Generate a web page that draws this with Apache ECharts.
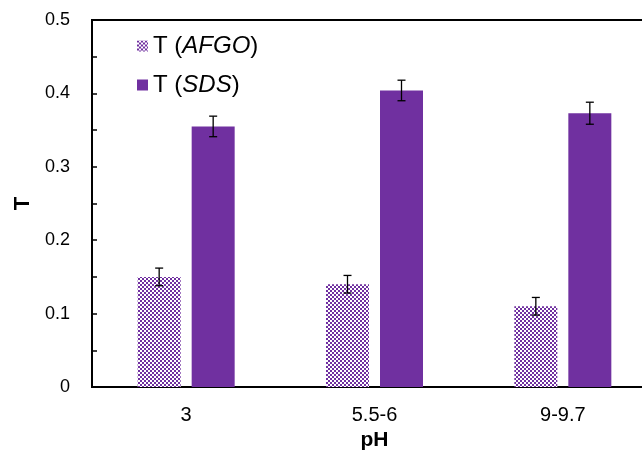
<!DOCTYPE html>
<html>
<head>
<meta charset="utf-8">
<script src="https://cdn.jsdelivr.net/npm/echarts@6/dist/echarts.min.js"></script>
<style>html,body{margin:0;padding:0;background:#fff}#c{width:642px;height:450px}</style>
</head>
<body>
<div id="c"></div>
<script>
var categories = ['3', '5.5-6', '9-9.7'];
var afgoValues = [0.15, 0.14, 0.11];
var sdsValues = [0.355, 0.404, 0.373];
var afgoErrors = [0.012, 0.012, 0.012];
var sdsErrors = [0.014, 0.014, 0.015];
var yTicks = [0, 0.1, 0.2, 0.3, 0.4, 0.5];

var PURPLE = '#7030A0';
var FONT = '"Liberation Sans", Arial, sans-serif';
var BAR_W = 43, BAR_GAP = 11;

function makePattern() {
  var cv = document.createElement('canvas');
  cv.width = 4; cv.height = 4;
  var ctx = cv.getContext('2d');
  ctx.fillStyle = '#ffffff';
  ctx.fillRect(0, 0, 4, 4);
  ctx.fillStyle = PURPLE;
  ctx.fillRect(0, 0, 2, 2);
  ctx.fillRect(2, 2, 2, 2);
  return cv;
}
var pattern = { image: makePattern(), repeat: 'repeat' };

function errSeries(values, errors, sign) {
  return {
    type: 'custom',
    z: 10,
    silent: true,
    data: values.map(function (v, i) { return [i, v, errors[i]]; }),
    renderItem: function (params, api) {
      var i = api.value(0), v = api.value(1), e = api.value(2);
      var off = sign * (BAR_W + BAR_GAP) / 2;
      var hi = api.coord([i, v + e]);
      var lo = api.coord([i, v - e]);
      var x = hi[0] + off;
      var cap = 4;
      var st = { stroke: '#000', lineWidth: 1.3 };
      return {
        type: 'group',
        children: [
          { type: 'line', shape: { x1: x, y1: hi[1], x2: x, y2: lo[1] }, style: st },
          { type: 'line', shape: { x1: x - cap, y1: hi[1], x2: x + cap, y2: hi[1] }, style: st },
          { type: 'line', shape: { x1: x - cap, y1: lo[1], x2: x + cap, y2: lo[1] }, style: st }
        ]
      };
    }
  };
}

var chart = echarts.init(document.getElementById('c'), null, { renderer: 'canvas' });
chart.setOption({
  animation: false,
  backgroundColor: '#fff',
  textStyle: { fontFamily: FONT },
  grid: {
    left: 92, top: 20, width: 565, height: 367,
    outerBoundsMode: 'none', containLabel: false,
    show: true, borderColor: '#000', borderWidth: 2, backgroundColor: 'transparent'
  },
  legend: {
    orient: 'vertical',
    left: 132,
    top: 29,
    itemWidth: 11,
    itemHeight: 11,
    itemGap: 15,
    icon: 'rect',
    data: ['AFGO', 'SDS'],
    formatter: function (n) { return 'T ({i|' + n + '})'; },
    textStyle: {
      fontSize: 24, color: '#000', fontFamily: FONT,
      rich: { i: { fontSize: 24, fontStyle: 'italic', color: '#000', fontFamily: FONT } }
    }
  },
  xAxis: {
    type: 'category',
    data: categories,
    name: 'pH',
    nameLocation: 'middle',
    nameGap: 43,
    nameTextStyle: { fontSize: 21, fontWeight: 'bold', color: '#000', fontFamily: FONT },
    axisLine: { lineStyle: { color: '#000', width: 2 } },
    axisTick: { show: false },
    axisLabel: { fontSize: 20, color: '#000', margin: 18, fontFamily: FONT }
  },
  yAxis: {
    type: 'value',
    min: yTicks[0],
    max: yTicks[yTicks.length - 1],
    interval: 0.1,
    name: 'T',
    nameLocation: 'middle',
    nameGap: 56,
    nameTextStyle: { fontSize: 22, fontWeight: 'bold', color: '#000', fontFamily: FONT },
    axisLine: { show: true, lineStyle: { color: '#000', width: 2 } },
    axisTick: { show: true, inside: true, length: 5, lineStyle: { color: '#000', width: 1.5 } },
    minorTick: { show: true, splitNumber: 2, length: 5, lineStyle: { color: '#000', width: 1.5 } },
    splitLine: { show: false },
    axisLabel: {
      fontSize: 18, color: '#000', margin: 22, fontFamily: FONT,
      formatter: function (v) { return String(Math.round(v * 10) / 10); }
    }
  },
  series: [
    {
      name: 'AFGO', type: 'bar', data: afgoValues,
      barWidth: BAR_W, barGap: (BAR_GAP / BAR_W * 100) + '%',
      itemStyle: { color: pattern }
    },
    {
      name: 'SDS', type: 'bar', data: sdsValues,
      barWidth: BAR_W,
      itemStyle: { color: PURPLE }
    },
    errSeries(afgoValues, afgoErrors, -1),
    errSeries(sdsValues, sdsErrors, 1)
  ]
});
</script>
</body>
</html>
